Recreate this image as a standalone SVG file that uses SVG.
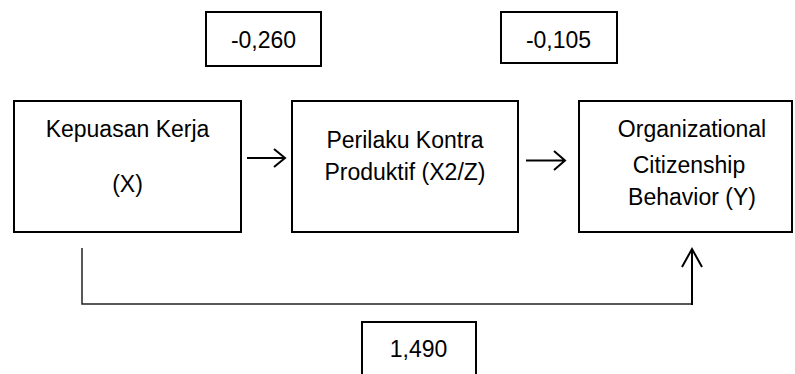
<svg xmlns="http://www.w3.org/2000/svg" width="795" height="374" viewBox="0 0 795 374">
<style>
.box{fill:#fff;stroke:#000;stroke-width:2}
.t{font-family:"Liberation Sans",Arial,sans-serif;font-size:23px;fill:#000;text-anchor:middle}
.c{fill:none;stroke:#000;stroke-width:2;stroke-linecap:butt;stroke-linejoin:miter}
.thin{fill:none;stroke:#222;stroke-width:1.5}
</style>
<rect width="795" height="374" fill="#fff"/>
<g id="coef-xz"><rect class="box" x="206" y="12" width="115" height="54"/><text class="t" x="263.5" y="48">-0,260</text></g>
<g id="coef-zy"><rect class="box" x="501" y="12" width="116" height="51"/><text class="t" x="558.5" y="48">-0,105</text></g>
<g id="coef-xy"><rect class="box" x="362" y="322" width="114" height="56"/><text class="t" x="418.5" y="357">1,490</text></g>
<g id="node-x"><rect class="box" x="14" y="101" width="227" height="131"/><text class="t" x="127.5" y="137">Kepuasan Kerja</text><text class="t" x="127.5" y="192">(X)</text></g>
<g id="node-z"><rect class="box" x="292" y="101" width="226" height="131"/><text class="t" x="405" y="148">Perilaku Kontra</text><text class="t" x="405" y="180">Produktif (X2/Z)</text></g>
<g id="node-y"><rect class="box" x="579" y="101" width="213" height="131"/><text class="t" x="692" y="137">Organizational</text><text class="t" x="689" y="173">Citizenship</text><text class="t" x="692" y="205">Behavior (Y)</text></g>
<g id="connectors">
<path class="c" d="M247 158H285M274 149L285 158L274 167"/>
<path class="c" d="M526 160.5H565M554 151L565 160.5L554 170"/>
<path class="thin" d="M82 248V304H692"/>
<path class="c" d="M692 305V249M682 267L692 249L702 267"/>
</g>
</svg>
